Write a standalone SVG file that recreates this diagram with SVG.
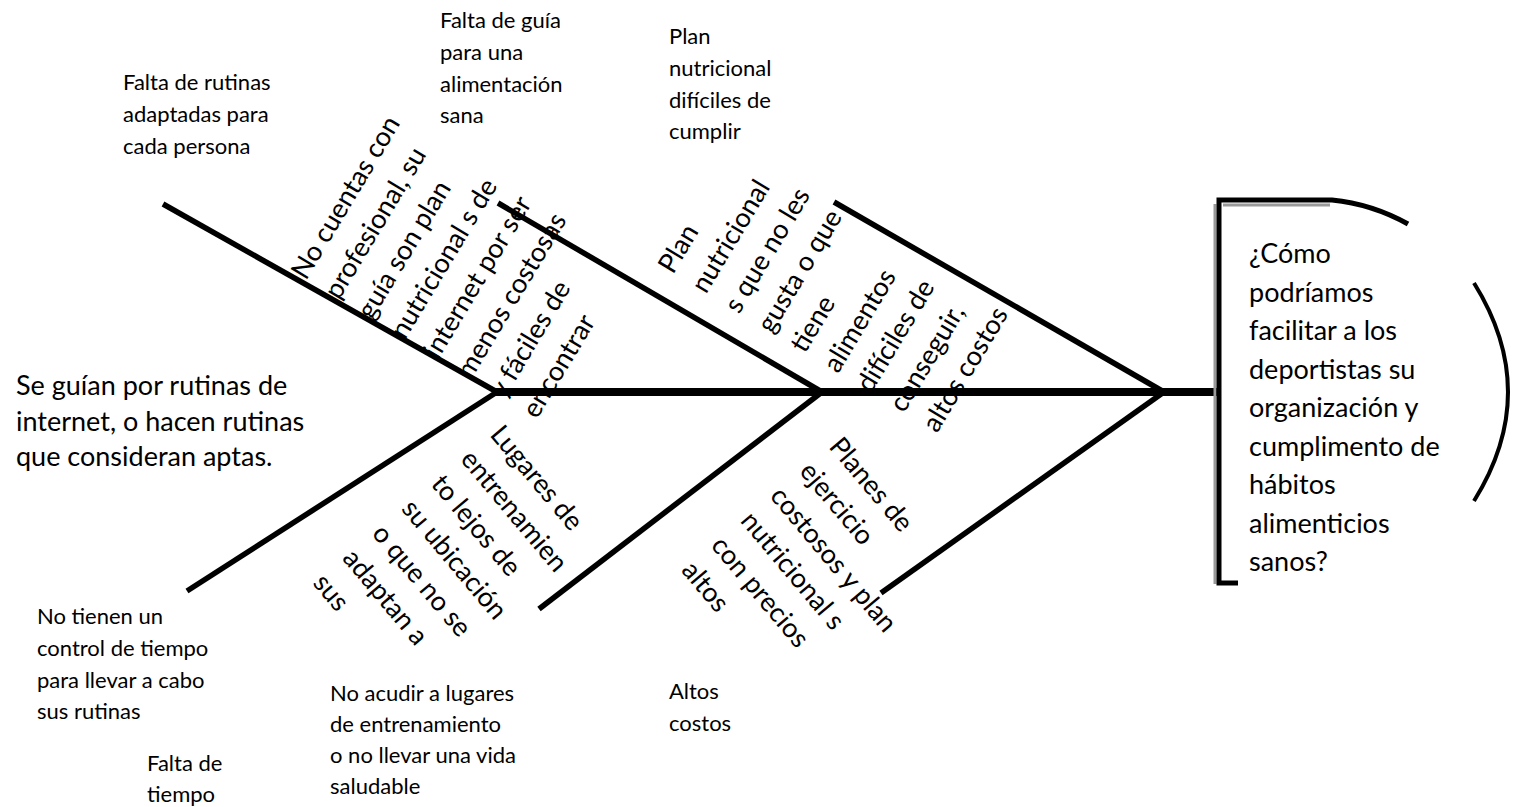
<svg xmlns="http://www.w3.org/2000/svg" width="1518" height="807" viewBox="0 0 1518 807">
  <style>
    .t { font-family: Lato, "Liberation Sans", sans-serif; fill: #000; }
    .big { font-size: 27px; }
    .sm { font-size: 22px; }
    .bone { stroke: #000; stroke-width: 5.5; fill: none; stroke-linecap: butt; }
    .spine { stroke: #000; stroke-width: 8; fill: none; }
    .frame { stroke: #000; stroke-width: 5; fill: none; }
    .shade { stroke: #9a9a9a; stroke-width: 3; fill: none; }
  </style>
  <rect width="1518" height="807" fill="#fff"/>

  <!-- fish skeleton: spine and six bones -->
  <g id="connectors">
    <line class="spine" x1="493" y1="392" x2="1219" y2="392"/>
    <line class="bone" x1="163" y1="204" x2="497" y2="392"/>
    <line class="bone" x1="187" y1="591" x2="497" y2="392"/>
    <line class="bone" x1="498" y1="203" x2="822" y2="392"/>
    <line class="bone" x1="539" y1="609" x2="822" y2="392"/>
    <line class="bone" x1="834" y1="202" x2="1164" y2="392"/>
    <line class="bone" x1="881" y1="593" x2="1164" y2="392"/>
  </g>

  <!-- head: bracket frame and curved outline around the question -->
  <g id="head">
    <path class="shade" d="M1215,204 V584 M1223,205 H1330"/>
    <path class="frame" d="M1238,583 H1219 V200 H1332 Q1372,204 1408,224"/>
    <path d="M1474,283 Q1542,392 1474,501" stroke="#000" stroke-width="4" fill="none"/>
    <text class="t big">
      <tspan x="1249" y="263">¿Cómo</tspan>
      <tspan x="1249" y="301.5">podríamos</tspan>
      <tspan x="1249" y="340">facilitar a los</tspan>
      <tspan x="1249" y="378.5">deportistas su</tspan>
      <tspan x="1249" y="417">organización y</tspan>
      <tspan x="1249" y="455.5">cumplimento de</tspan>
      <tspan x="1249" y="494">hábitos</tspan>
      <tspan x="1249" y="532.5">alimenticios</tspan>
      <tspan x="1249" y="571">sanos?</tspan>
    </text>
  </g>

  <!-- tail text -->
  <g id="tail">
    <text class="t big">
      <tspan x="16" y="395">Se guían por rutinas de</tspan>
      <tspan x="16" y="431">internet, o hacen rutinas</tspan>
      <tspan x="16" y="466">que consideran aptas.</tspan>
    </text>
  </g>

  <!-- category labels -->
  <g id="cat-rutinas">
    <text class="t sm">
      <tspan x="123" y="90">Falta de rutinas</tspan>
      <tspan x="123" y="122">adaptadas para</tspan>
      <tspan x="123" y="154">cada persona</tspan>
    </text>
  </g>
  <g id="cat-guia">
    <text class="t sm">
      <tspan x="440" y="28">Falta de guía</tspan>
      <tspan x="440" y="60">para una</tspan>
      <tspan x="440" y="92">alimentación</tspan>
      <tspan x="440" y="123">sana</tspan>
    </text>
  </g>
  <g id="cat-plan">
    <text class="t sm">
      <tspan x="669" y="44">Plan</tspan>
      <tspan x="669" y="76">nutricional</tspan>
      <tspan x="669" y="108">difíciles de</tspan>
      <tspan x="669" y="139">cumplir</tspan>
    </text>
  </g>
  <g id="cat-control">
    <text class="t sm">
      <tspan x="37" y="624">No tienen un</tspan>
      <tspan x="37" y="656">control de tiempo</tspan>
      <tspan x="37" y="688">para llevar a cabo</tspan>
      <tspan x="37" y="719">sus rutinas</tspan>
    </text>
  </g>
  <g id="cat-tiempo">
    <text class="t sm">
      <tspan x="147" y="771">Falta de</tspan>
      <tspan x="147" y="802">tiempo</tspan>
    </text>
  </g>
  <g id="cat-lugares">
    <text class="t sm">
      <tspan x="330" y="701">No acudir a lugares</tspan>
      <tspan x="330" y="732">de entrenamiento</tspan>
      <tspan x="330" y="763">o no llevar una vida</tspan>
      <tspan x="330" y="794">saludable</tspan>
    </text>
  </g>
  <g id="cat-costos">
    <text class="t sm">
      <tspan x="669" y="699">Altos</tspan>
      <tspan x="669" y="731">costos</tspan>
    </text>
  </g>

  <!-- causes written along the bones -->
  <g id="cause-profesional" transform="translate(306,281) rotate(-59)">
    <text class="t big">
      <tspan x="0" y="0">No cuentas con</tspan>
      <tspan x="0" y="38.5">profesional, su</tspan>
      <tspan x="0" y="77">guía son plan</tspan>
      <tspan x="0" y="115.5">nutricional s de</tspan>
      <tspan x="0" y="154">internet por ser</tspan>
      <tspan x="0" y="192.5">menos costosas</tspan>
      <tspan x="0" y="231">y fáciles de</tspan>
      <tspan x="0" y="269.5">encontrar</tspan>
    </text>
  </g>
  <g id="cause-alimentos" transform="translate(673,275) rotate(-59)">
    <text class="t big">
      <tspan x="0" y="0">Plan</tspan>
      <tspan x="0" y="38.5">nutricional</tspan>
      <tspan x="0" y="77">s que no les</tspan>
      <tspan x="0" y="115.5">gusta o que</tspan>
      <tspan x="0" y="154">tiene</tspan>
      <tspan x="0" y="192.5">alimentos</tspan>
      <tspan x="0" y="231">difíciles de</tspan>
      <tspan x="0" y="269.5">conseguir,</tspan>
      <tspan x="0" y="308">altos costos</tspan>
    </text>
  </g>
  <g id="cause-lugares" transform="translate(489,435) rotate(50)">
    <text class="t big">
      <tspan x="0" y="0">Lugares de</tspan>
      <tspan x="0" y="38.5">entrenamien</tspan>
      <tspan x="0" y="77">to lejos de</tspan>
      <tspan x="0" y="115.5">su ubicación</tspan>
      <tspan x="0" y="154">o que no se</tspan>
      <tspan x="0" y="192.5">adaptan a</tspan>
      <tspan x="0" y="231">sus</tspan>
    </text>
  </g>
  <g id="cause-precios" transform="translate(828,447) rotate(50)">
    <text class="t big">
      <tspan x="0" y="0">Planes de</tspan>
      <tspan x="0" y="38.5">ejercicio</tspan>
      <tspan x="0" y="77">costosos y plan</tspan>
      <tspan x="0" y="115.5">nutricional s</tspan>
      <tspan x="0" y="154">con precios</tspan>
      <tspan x="0" y="192.5">altos</tspan>
    </text>
  </g>
</svg>
